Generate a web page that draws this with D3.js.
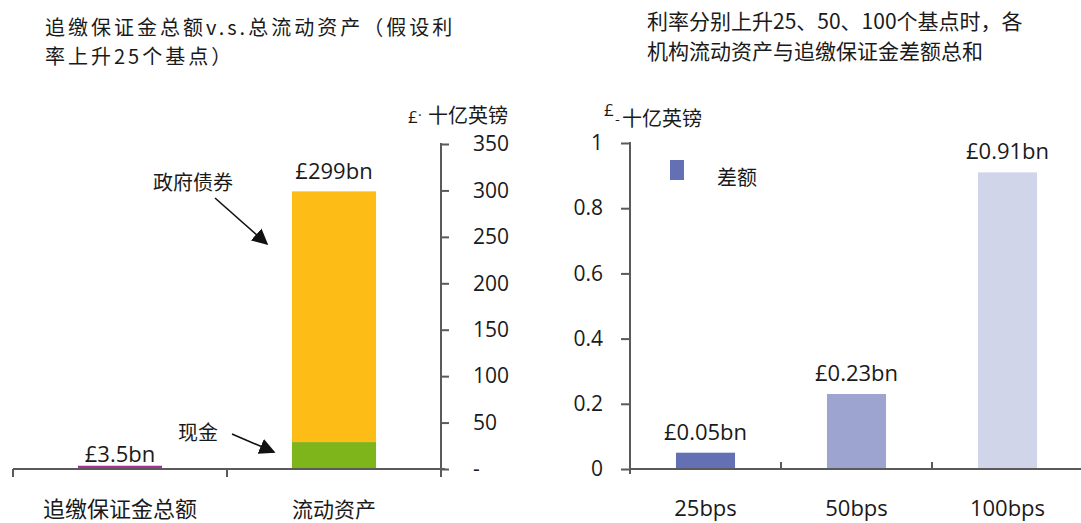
<!DOCTYPE html>
<html>
<head>
<meta charset="utf-8">
<script src="https://cdn.jsdelivr.net/npm/d3@7/dist/d3.min.js"></script>
<style>
  html, body { margin: 0; padding: 0; background: #fff; }
  svg { display: block; }
  text { fill: #1a1a1a; }
</style>
</head>
<body>
<svg id="chart" width="1081" height="523"></svg>
<script>
// ---- Left panel: total margin calls vs. liquid assets (25bp rise) ----
const leftCategories = ["追缴保证金总额", "流动资产"];
const marginCallValues = [3.5, 0];      // £bn
const cashValues = [0, 29];             // £bn, 现金
const giltValues = [0, 270];            // £bn, 政府债券
const leftTicks = [0, 50, 100, 150, 200, 250, 300, 350];
const leftTickLabels = ["-", "50", "100", "150", "200", "250", "300", "350"];

// ---- Right panel: liquid assets minus margin calls shortfall ----
const rightCategories = ["25bps", "50bps", "100bps"];
const shortfallValues = [0.05, 0.23, 0.91];   // £bn
const rightTicks = [0, 0.2, 0.4, 0.6, 0.8, 1];
const rightTickLabels = ["0", "0.2", "0.4", "0.6", "0.8", "1"];

const latin = "'Open Sans', 'Noto Sans CJK SC', sans-serif";
const cjk = "'Noto Sans CJK SC', 'Noto Sans', sans-serif";
const axisColor = "#5a5a5a";

const svg = d3.select("#chart");

function fmtBn(v) { return "£" + v + "bn"; }

// ================= Left panel =================
const L = { x0: 13, x1: 441, y0: 469, y1: 144 };
const xL = d3.scaleBand().domain(leftCategories).range([L.x0, L.x1])
  .paddingInner(0.607).paddingOuter(0.3035);
const yL = d3.scaleLinear().domain([0, 350]).range([L.y0, L.y1]);

// stacked layers, bottom to top
const layers = [
  { name: "margin", values: marginCallValues, color: "#a3338f" },
  { name: "cash", values: cashValues, color: "#7db51a" },
  { name: "gilts", values: giltValues, color: "#fdbd16" }
];
const gBars = svg.append("g");
leftCategories.forEach((cat, i) => {
  let base = 0;
  layers.forEach(layer => {
    const v = layer.values[i];
    if (v > 0) {
      gBars.append("rect")
        .attr("x", xL(cat)).attr("width", xL.bandwidth())
        .attr("y", yL(base + v)).attr("height", yL(base) - yL(base + v))
        .attr("fill", layer.color);
    }
    base += v;
  });
  const total = base;
  const top = yL(total);
  const ly = (L.y0 - top) < 10 ? L.y0 - 7 : top - 12;
  svg.append("text").attr("x", xL(cat) + xL.bandwidth() / 2).attr("y", ly)
    .attr("text-anchor", "middle").style("font-family", latin).style("font-size", "22px")
    .text(fmtBn(total));
});

// left y axis (ticks on the right side)
const axL = svg.append("g").attr("transform", `translate(${L.x1},0)`)
  .call(d3.axisRight(yL).tickValues(leftTicks).tickSize(8).tickPadding(24)
    .tickFormat((d, i) => leftTickLabels[i]));
axL.select(".domain").remove();
axL.selectAll(".tick line").attr("stroke", axisColor).attr("stroke-width", 2);
axL.selectAll(".tick text").style("font-family", latin).style("font-size", "21px").attr("fill", "#1a1a1a");
axL.append("line").attr("x1", 0).attr("x2", 0).attr("y1", L.y1 - 1).attr("y2", L.y0 + 8)
  .attr("stroke", axisColor).attr("stroke-width", 2);

// left x axis
const gxL = svg.append("g");
gxL.append("line").attr("x1", L.x0).attr("x2", L.x1 + 4).attr("y1", L.y0).attr("y2", L.y0)
  .attr("stroke", axisColor).attr("stroke-width", 2);
[L.x0, L.x0 + xL.step()].forEach(x => {
  gxL.append("line").attr("x1", x).attr("x2", x).attr("y1", L.y0).attr("y2", L.y0 + 8)
    .attr("stroke", axisColor).attr("stroke-width", 2);
});
const leftCatSizes = [22, 21];
leftCategories.forEach((cat, i) => {
  gxL.append("text").attr("x", xL(cat) + xL.bandwidth() / 2).attr("y", 517)
    .attr("text-anchor", "middle").style("font-family", cjk)
    .style("font-size", leftCatSizes[i] + "px").text(cat);
});

// unit label
const unitL = svg.append("text").style("font-family", cjk).style("font-size", "20px");
unitL.append("tspan").attr("x", 408).attr("y", 123).style("font-family", latin).style("font-size", "17px").text("£");
unitL.append("tspan").attr("x", 418).attr("y", 120).style("font-family", latin).style("font-size", "14px").text("·");
unitL.append("tspan").attr("x", 428).attr("y", 123).text("十亿英镑");

// annotations with arrows
const defs = svg.append("defs");
defs.append("marker").attr("id", "arrow").attr("viewBox", "0 0 10 10")
  .attr("refX", 9).attr("refY", 5).attr("markerWidth", 16).attr("markerHeight", 16)
  .attr("markerUnits", "userSpaceOnUse").attr("orient", "auto")
  .append("path").attr("d", "M0,0 L10,5 L0,10 Z").attr("fill", "#111");

svg.append("text").attr("x", 153).attr("y", 190).style("font-family", cjk).style("font-size", "20px")
  .text("政府债券");
svg.append("line").attr("x1", 215).attr("y1", 198).attr("x2", 267).attr("y2", 244)
  .attr("stroke", "#111").attr("stroke-width", 1.6).attr("marker-end", "url(#arrow)");

svg.append("text").attr("x", 178).attr("y", 440).style("font-family", cjk).style("font-size", "20px")
  .text("现金");
svg.append("line").attr("x1", 232).attr("y1", 434).attr("x2", 274).attr("y2", 452)
  .attr("stroke", "#111").attr("stroke-width", 1.6).attr("marker-end", "url(#arrow)");

// left title
const titleL = svg.append("text").style("font-family", cjk).style("font-size", "20px")
  .style("letter-spacing", "3px");
titleL.append("tspan").attr("x", 45).attr("y", 35).text("追缴保证金总额v.s.总流动资产（假设利");
titleL.append("tspan").attr("x", 45).attr("y", 64).text("率上升25个基点）");

// ================= Right panel =================
const R = { x0: 630, x1: 1083, y0: 469, y1: 143 };
const xR = d3.scaleBand().domain(rightCategories).range([R.x0, R.x1])
  .paddingInner(0.609).paddingOuter(0.3045);
const yR = d3.scaleLinear().domain([0, 1]).range([R.y0, R.y1]);
const rightColors = ["#6470b4", "#9da4d0", "#d0d5ea"];

rightCategories.forEach((cat, i) => {
  const v = shortfallValues[i];
  svg.append("rect").attr("x", xR(cat)).attr("width", xR.bandwidth())
    .attr("y", yR(v)).attr("height", yR(0) - yR(v)).attr("fill", rightColors[i]);
  svg.append("text").attr("x", xR(cat) + xR.bandwidth() / 2).attr("y", yR(v) - 13)
    .attr("text-anchor", "middle").style("font-family", latin).style("font-size", "22px")
    .text(fmtBn(v));
});

const axR = svg.append("g").attr("transform", `translate(${R.x0},0)`)
  .call(d3.axisLeft(yR).tickValues(rightTicks).tickSize(9).tickPadding(18)
    .tickFormat((d, i) => rightTickLabels[i]));
axR.select(".domain").remove();
axR.selectAll(".tick line").attr("stroke", axisColor).attr("stroke-width", 2);
axR.selectAll(".tick text").style("font-family", latin).style("font-size", "21px").attr("fill", "#1a1a1a");
axR.append("line").attr("x1", 0).attr("x2", 0).attr("y1", R.y1 - 1).attr("y2", R.y0 + 5)
  .attr("stroke", axisColor).attr("stroke-width", 2);

const gxR = svg.append("g");
gxR.append("line").attr("x1", R.x0).attr("x2", 1081).attr("y1", R.y0).attr("y2", R.y0)
  .attr("stroke", axisColor).attr("stroke-width", 2);
[1, 2].forEach(k => {
  const x = R.x0 + k * xR.step();
  gxR.append("line").attr("x1", x).attr("x2", x).attr("y1", R.y0).attr("y2", R.y0 - 7)
    .attr("stroke", axisColor).attr("stroke-width", 2);
});
rightCategories.forEach(cat => {
  gxR.append("text").attr("x", xR(cat) + xR.bandwidth() / 2).attr("y", 516)
    .attr("text-anchor", "middle").style("font-family", latin).style("font-size", "22px").text(cat);
});

// legend
svg.append("rect").attr("x", 670).attr("y", 160).attr("width", 14).attr("height", 20).attr("fill", rightColors[0]);
svg.append("text").attr("x", 717).attr("y", 185).style("font-family", cjk).style("font-size", "20px").text("差额");

// unit label
const unitR = svg.append("text").style("font-family", cjk).style("font-size", "20px");
unitR.append("tspan").attr("x", 604).attr("y", 116).style("font-family", latin).style("font-size", "17px").text("£");
unitR.append("tspan").attr("x", 615).attr("y", 124).style("font-size", "14px").text("-");
unitR.append("tspan").attr("x", 622).attr("y", 126).text("十亿英镑");

// right title
const titleR = svg.append("text").style("font-family", cjk).style("font-size", "21px");
titleR.append("tspan").attr("x", 647).attr("y", 29).text("利率分别上升25、50、100个基点时，各");
titleR.append("tspan").attr("x", 647).attr("y", 59).text("机构流动资产与追缴保证金差额总和");
</script>
</body>
</html>
